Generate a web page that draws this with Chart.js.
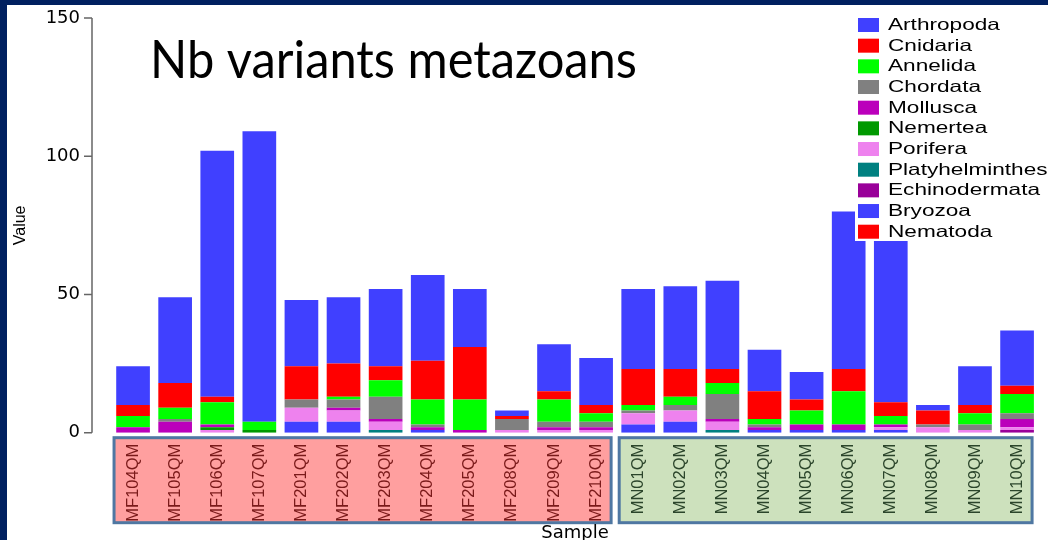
<!DOCTYPE html>
<html>
<head>
<meta charset="utf-8">
<script src="https://cdn.jsdelivr.net/npm/chart.js@4.4.1/dist/chart.umd.min.js"></script>
<style>
  html, body { margin: 0; padding: 0; background: #fff; }
  #wrap { position: relative; width: 1048px; height: 540px; }
</style>
</head>
<body>
<div id="wrap"><canvas id="chart" width="1048" height="540"></canvas></div>
<script>
// samples along the x axis
const samples = ['MF104QM', 'MF105QM', 'MF106QM', 'MF107QM', 'MF201QM', 'MF202QM', 'MF203QM',
  'MF204QM', 'MF205QM', 'MF208QM', 'MF209QM', 'MF210QM', 'MN01QM', 'MN02QM', 'MN03QM',
  'MN04QM', 'MN05QM', 'MN06QM', 'MN07QM', 'MN08QM', 'MN09QM', 'MN10QM'];

// number of variants per phylum
const arthropoda      = [14, 31, 89, 105, 24, 24, 28, 31, 21, 2, 17, 17, 29, 30, 32, 15, 10, 57, 68, 2, 14, 20];
const cnidaria        = [4, 9, 2, 0, 12, 12, 5, 14, 19, 1, 3, 3, 13, 10, 5, 10, 4, 8, 5, 5, 3, 3];
const annelida        = [4, 4, 8, 3, 0, 1, 6, 9, 11, 0, 8, 3, 2, 3, 4, 2, 5, 12, 3, 0, 4, 7];
const chordata        = [0, 1, 0, 0, 3, 3, 8, 1, 0, 4, 2, 2, 1, 2, 9, 1, 0, 0, 0, 1, 2, 2];
const mollusca        = [2, 4, 1, 0, 0, 1, 1, 1, 1, 0, 1, 1, 0, 0, 1, 1, 2, 2, 1, 0, 0, 3];
const nemertea        = [0, 0, 1, 1, 0, 0, 0, 0, 0, 0, 0, 0, 0, 0, 0, 0, 0, 0, 0, 0, 0, 0];
const porifera        = [0, 0, 1, 0, 5, 4, 3, 0, 0, 1, 1, 1, 4, 4, 3, 0, 0, 0, 1, 2, 1, 1];
const platyhelminthes = [0, 0, 0, 0, 0, 0, 1, 0, 0, 0, 0, 0, 0, 0, 1, 0, 0, 0, 0, 0, 0, 0];
const echinodermata   = [0, 0, 0, 0, 0, 0, 0, 0, 0, 0, 0, 0, 0, 0, 0, 0, 0, 0, 0, 0, 0, 1];
const bryozoa         = [0, 0, 0, 0, 4, 4, 0, 1, 0, 0, 0, 0, 3, 4, 0, 1, 1, 1, 1, 0, 0, 0];
const nematoda        = [0, 0, 0, 0, 0, 0, 0, 0, 0, 0, 0, 0, 0, 0, 0, 0, 0, 0, 0, 0, 0, 0];

// legend order (top of the stack first)
const phyla = ['Arthropoda', 'Cnidaria', 'Annelida', 'Chordata', 'Mollusca', 'Nemertea',
  'Porifera', 'Platyhelminthes', 'Echinodermata', 'Bryozoa', 'Nematoda'];
const series = [arthropoda, cnidaria, annelida, chordata, mollusca, nemertea,
  porifera, platyhelminthes, echinodermata, bryozoa, nematoda];
const colors = ['#4040ff', '#ff0000', '#00ff00', '#808080', '#bb00bb', '#009900',
  '#ee82ee', '#008080', '#990099', '#4040ff', '#ff0000'];

const yTicks = [0, 50, 100, 150];
const chartTitle = 'Nb variants metazoans';

// sample groups drawn as coloured boxes behind the labels
const groups = [
  { from: 0, to: 11, fill: '#ff9f9f', text: '#7a1a1a' },
  { from: 12, to: 21, fill: '#cde1bd', text: '#2b452b' }
];

// stack from the bottom up, so reverse the legend order
const datasets = phyla.map((name, i) => ({
  label: name,
  data: series[i],
  backgroundColor: colors[i],
  borderWidth: 0
})).reverse();

const decorations = {
  id: 'decorations',
  beforeDraw(chart) {
    const { ctx, scales: { x }, chartArea } = chart;
    ctx.save();
    ctx.fillStyle = '#fff';
    ctx.fillRect(0, 0, chart.width, chart.height);
    ctx.fillStyle = '#002060';
    ctx.fillRect(0, 0, 7, chart.height);
    ctx.fillRect(0, 0, chart.width, 5);

    groups.forEach(g => {
      const left = x.getPixelForValue(g.from) - 19;
      const right = x.getPixelForValue(g.to) + 15;
      const top = chartArea.bottom + 5;
      const bottom = chartArea.bottom + 90;
      ctx.fillStyle = g.fill;
      ctx.fillRect(left, top, right - left, bottom - top);
      ctx.strokeStyle = '#4f77a2';
      ctx.lineWidth = 3;
      ctx.strokeRect(left, top, right - left, bottom - top);
    });
    ctx.restore();
  },
  afterDraw(chart) {
    const { ctx, scales: { y }, chartArea } = chart;
    ctx.save();

    // y axis as a bracket, set off from the bars
    const ax = chartArea.left - 20;
    ctx.strokeStyle = '#666';
    ctx.lineWidth = 1.5;
    ctx.beginPath();
    ctx.moveTo(ax, y.getPixelForValue(yTicks[0]));
    ctx.lineTo(ax, y.getPixelForValue(yTicks[yTicks.length - 1]));
    yTicks.forEach(v => {
      const py = y.getPixelForValue(v);
      ctx.moveTo(ax - 8, py);
      ctx.lineTo(ax, py);
    });
    ctx.stroke();

    // legend box over the plot
    ctx.fillStyle = '#fff';
    ctx.fillRect(855, 12, chart.width - 855, 229);
    phyla.forEach((name, i) => {
      const top = 18 + i * 20.67;
      ctx.fillStyle = colors[i];
      ctx.fillRect(858, top, 21, 14);
      ctx.save();
      ctx.translate(888, top + 7.5);
      ctx.scale(1.37, 1);
      ctx.fillStyle = '#000';
      ctx.font = '16.5px "Liberation Sans", Arial, sans-serif';
      ctx.textBaseline = 'middle';
      ctx.fillText(name, 0, 0);
      ctx.restore();
    });

    // slide title
    ctx.font = '52px Lato, "Open Sans", sans-serif';
    const w = ctx.measureText(chartTitle).width;
    ctx.translate(150, 78);
    ctx.scale(487 / w, 1);
    ctx.fillStyle = '#000';
    ctx.textBaseline = 'alphabetic';
    ctx.fillText(chartTitle, 0, 0);
    ctx.restore();
  }
};

new Chart(document.getElementById('chart').getContext('2d'), {
  type: 'bar',
  data: { labels: samples, datasets: datasets },
  options: {
    responsive: false,
    animation: false,
    layout: { padding: { top: 18, right: 5.5, left: 0, bottom: 0 } },
    datasets: { bar: { barPercentage: 0.8, categoryPercentage: 1 } },
    plugins: {
      legend: { display: false },
      tooltip: { enabled: false }
    },
    scales: {
      x: {
        stacked: true,
        grid: { display: false, drawTicks: false },
        border: { display: false },
        afterFit: s => { s.height = 107.3; },
        ticks: {
          autoSkip: false,
          minRotation: 90,
          maxRotation: 90,
          padding: 11,
          font: { family: '"Liberation Sans", Arial, sans-serif', size: 16.5 },
          color: c => (c.index < groups[1].from ? groups[0].text : groups[1].text)
        },
        title: {
          display: true,
          text: 'Sample',
          color: '#000',
          font: { family: '"DejaVu Sans", sans-serif', size: 18 },
          padding: { top: 0, bottom: -4 }
        }
      },
      y: {
        stacked: true,
        min: 0,
        max: 150,
        afterFit: s => { s.width = 112; },
        afterBuildTicks: s => { s.ticks = yTicks.map(v => ({ value: v })); },
        grid: { display: false, drawTicks: true, tickLength: 32 },
        border: { display: false },
        ticks: {
          padding: 0,
          color: '#000',
          font: { family: '"DejaVu Sans", sans-serif', size: 18 }
        },
        title: {
          display: true,
          text: 'Value',
          color: '#000',
          font: { family: '"Liberation Sans", Arial, sans-serif', size: 16 },
          padding: { top: 11, bottom: 0 }
        }
      }
    }
  },
  plugins: [decorations]
});
</script>
</body>
</html>
